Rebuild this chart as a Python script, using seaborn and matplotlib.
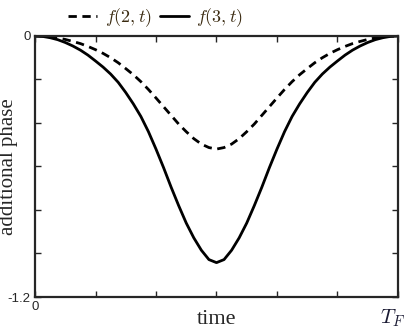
import numpy as np
import pandas as pd
import matplotlib
matplotlib.use("Agg")
import matplotlib.pyplot as plt
import seaborn as sns

# time in units of T_F (samples at k/48)
t = [k / 48 for k in range(49)]

# additional phase
f2 = [0, -0.001, -0.004, -0.009, -0.016, -0.025, -0.035, -0.048, -0.063, -0.080,
      -0.100, -0.123, -0.150, -0.178, -0.210, -0.246, -0.285, -0.325, -0.365, -0.405,
      -0.440, -0.472, -0.497, -0.513, -0.520,
      -0.513, -0.497, -0.472, -0.440, -0.405, -0.365, -0.325, -0.285, -0.246, -0.210,
      -0.178, -0.150, -0.123, -0.100, -0.080, -0.063, -0.048, -0.035, -0.025, -0.016,
      -0.009, -0.004, -0.001, 0]
f3 = [0, -0.002, -0.008, -0.017, -0.030, -0.046, -0.065, -0.088, -0.115, -0.143,
      -0.175, -0.213, -0.260, -0.312, -0.370, -0.440, -0.520, -0.605, -0.695, -0.780,
      -0.860, -0.928, -0.985, -1.028, -1.042,
      -1.028, -0.985, -0.928, -0.860, -0.780, -0.695, -0.605, -0.520, -0.440, -0.370,
      -0.312, -0.260, -0.213, -0.175, -0.143, -0.115, -0.088, -0.065, -0.046, -0.030,
      -0.017, -0.008, -0.002, 0]

df = pd.DataFrame({'t': t, 'f2': f2, 'f3': f3})

sns.set_style('ticks')
plt.rcParams['font.family'] = ['Liberation Sans', 'DejaVu Sans']
plt.rcParams['mathtext.fontset'] = 'cm'

fig = plt.figure(figsize=(4.09, 3.30), dpi=100)
ax = fig.add_axes([0.0856, 0.10, 0.8874, 0.791])

sns.lineplot(data=df, x='t', y='f2', ax=ax, color='black', lw=2, linestyle=(0, (3, 2)),
             label='$f(2,t)$')
sns.lineplot(data=df, x='t', y='f3', ax=ax, color='black', lw=2, label='$f(3,t)$')

ax.set_xlim(0, 1)
ax.set_ylim(-1.2, 0)
ax.set_xticks([0, 1/6, 2/6, 3/6, 4/6, 5/6, 1])
ax.set_xticklabels(['0', '', '', '', '', '', ''])
ax.set_yticks([0, -0.2, -0.4, -0.6, -0.8, -1.0, -1.2])
ax.set_yticklabels(['0', '', '', '', '', '', '-1.2'])
ax.tick_params(direction='in', length=4, width=1, top=True, right=True,
               labelsize=9.5, pad=3)
for s in ax.spines.values():
    s.set_linewidth(1.6)

ax.set_xlabel('time', family='Liberation Serif', fontsize=16, labelpad=-2)
ax.set_ylabel('additional phase', family='Liberation Serif', fontsize=15)
ax.yaxis.set_label_coords(-0.047, 0.5)
ax.text(0.985, -0.08, '$T_F$', transform=ax.transAxes, fontsize=15,
        ha='center', va='center', color='#1a1a33')

ax.legend(loc='lower center', bbox_to_anchor=(0.333, 1.02), ncol=2, frameon=False,
          fontsize=13, handlelength=1.6, handletextpad=0.4, columnspacing=0.5,
          borderaxespad=0.0, borderpad=0.1, labelcolor='#3a2a10')

fig.savefig('out.png', dpi=100)
